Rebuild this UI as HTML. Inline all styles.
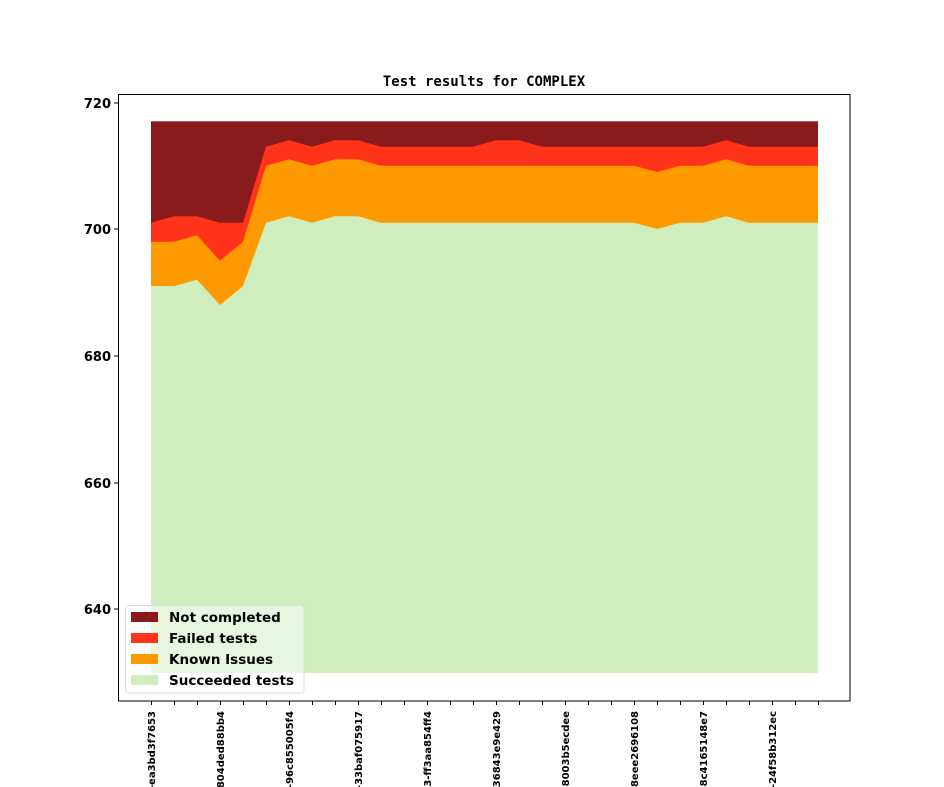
<!DOCTYPE html>
<html><head><meta charset="utf-8"><style>body{margin:0;background:#fff}svg{display:block}</style></head>
<body>
<svg width="944" height="787" xmlns="http://www.w3.org/2000/svg" font-family="DejaVu Sans, Liberation Sans, sans-serif">
<rect width="944" height="787" fill="#fff"/>
<text x="484" y="86" text-anchor="middle" font-family="DejaVu Sans Mono, Liberation Mono, monospace" font-weight="bold" font-size="14">Test results for COMPLEX</text>
<rect x="151" y="121.3" width="667" height="551" fill="#8b1a1c"/>
<polygon fill="#ff331a" points="151,222.7 174,216.3 197,216.3 220,222.7 243,222.7 266,146.7 289,140.3 312,146.7 335,140.3 358,140.3 381,146.7 404,146.7 427,146.7 450,146.7 473,146.7 496,140.3 519,140.3 542,146.7 565,146.7 588,146.7 611,146.7 634,146.7 657,146.7 680,146.7 703,146.7 726,140.3 749,146.7 772,146.7 795,146.7 818,146.7 818,672.3 151,672.3"/>
<polygon fill="#ff9900" points="151,241.7 174,241.7 197,235.3 220,260.7 243,241.7 266,165.7 289,159.3 312,165.7 335,159.3 358,159.3 381,165.7 404,165.7 427,165.7 450,165.7 473,165.7 496,165.7 519,165.7 542,165.7 565,165.7 588,165.7 611,165.7 634,165.7 657,172 680,165.7 703,165.7 726,159.3 749,165.7 772,165.7 795,165.7 818,165.7 818,672.3 151,672.3"/>
<polygon fill="#cfedbd" points="151,286 174,286 197,279.7 220,305 243,286 266,222.7 289,216.3 312,222.7 335,216.3 358,216.3 381,222.7 404,222.7 427,222.7 450,222.7 473,222.7 496,222.7 519,222.7 542,222.7 565,222.7 588,222.7 611,222.7 634,222.7 657,229 680,222.7 703,222.7 726,216.3 749,222.7 772,222.7 795,222.7 818,222.7 818,673 151,673"/>
<rect x="118.5" y="94.5" width="731.5" height="606.5" fill="none" stroke="#000" stroke-width="1"/>
<g stroke="#000" stroke-width="1">
<line x1="114" x2="118" y1="103" y2="103"/><line x1="114" x2="118" y1="229" y2="229"/><line x1="114" x2="118" y1="356" y2="356"/><line x1="114" x2="118" y1="483" y2="483"/><line x1="114" x2="118" y1="609" y2="609"/>
</g>
<g font-weight="bold" font-size="13" text-anchor="end">
<text x="111" y="108">720</text><text x="111" y="234">700</text><text x="111" y="361">680</text><text x="111" y="488">660</text><text x="111" y="614">640</text>
</g>
<g stroke="#000" stroke-width="1">
<line x1="151.5" x2="151.5" y1="701" y2="705"/><line x1="174.5" x2="174.5" y1="701" y2="705"/><line x1="197.5" x2="197.5" y1="701" y2="705"/><line x1="220.5" x2="220.5" y1="701" y2="705"/><line x1="243.5" x2="243.5" y1="701" y2="705"/><line x1="266.5" x2="266.5" y1="701" y2="705"/><line x1="289.5" x2="289.5" y1="701" y2="705"/><line x1="312.5" x2="312.5" y1="701" y2="705"/><line x1="335.5" x2="335.5" y1="701" y2="705"/><line x1="358.5" x2="358.5" y1="701" y2="705"/><line x1="381.5" x2="381.5" y1="701" y2="705"/><line x1="404.5" x2="404.5" y1="701" y2="705"/><line x1="427.5" x2="427.5" y1="701" y2="705"/><line x1="450.5" x2="450.5" y1="701" y2="705"/><line x1="473.5" x2="473.5" y1="701" y2="705"/><line x1="496.5" x2="496.5" y1="701" y2="705"/><line x1="519.5" x2="519.5" y1="701" y2="705"/><line x1="542.5" x2="542.5" y1="701" y2="705"/><line x1="565.5" x2="565.5" y1="701" y2="705"/><line x1="588.5" x2="588.5" y1="701" y2="705"/><line x1="611.5" x2="611.5" y1="701" y2="705"/><line x1="634.5" x2="634.5" y1="701" y2="705"/><line x1="657.5" x2="657.5" y1="701" y2="705"/><line x1="680.5" x2="680.5" y1="701" y2="705"/><line x1="703.5" x2="703.5" y1="701" y2="705"/><line x1="726.5" x2="726.5" y1="701" y2="705"/><line x1="749.5" x2="749.5" y1="701" y2="705"/><line x1="772.5" x2="772.5" y1="701" y2="705"/><line x1="795.5" x2="795.5" y1="701" y2="705"/><line x1="818.5" x2="818.5" y1="701" y2="705"/>
</g>
<g font-weight="bold" font-size="10" text-anchor="end">
<text transform="translate(155,711) rotate(-90)">-ea3bd3f7653</text>
<text transform="translate(224,711) rotate(-90)">804ded88bb4</text>
<text transform="translate(293,711) rotate(-90)">-96c85500­5f4</text>
<text transform="translate(362,711) rotate(-90)">-33baf075917</text>
<text transform="translate(431,711) rotate(-90)">3-ff3aa854ff4</text>
<text transform="translate(500,711) rotate(-90)">36843e9e429</text>
<text transform="translate(569,711) rotate(-90)">-8003b5ecdee</text>
<text transform="translate(638,711) rotate(-90)">-8eee2696108</text>
<text transform="translate(707,711) rotate(-90)">-8c4165148e7</text>
<text transform="translate(776,711) rotate(-90)">-24f58b312ec</text>
</g>
<rect x="125.5" y="605.5" width="178.5" height="87.5" rx="3" fill="#fff" fill-opacity="0.5" stroke="#ddd"/>
<rect x="131" y="612" width="27" height="10" fill="#8b1a1c"/>
<rect x="131" y="633" width="27" height="10" fill="#ff331a"/>
<rect x="131" y="654" width="27" height="10" fill="#ff9900"/>
<rect x="131" y="675" width="27" height="10" fill="#cfedbd"/>
<g font-weight="bold" font-size="13.5">
<text x="169" y="622">Not completed</text>
<text x="169" y="643">Failed tests</text>
<text x="169" y="664">Known Issues</text>
<text x="169" y="685">Succeeded tests</text>
</g>
</svg>
</body></html>
